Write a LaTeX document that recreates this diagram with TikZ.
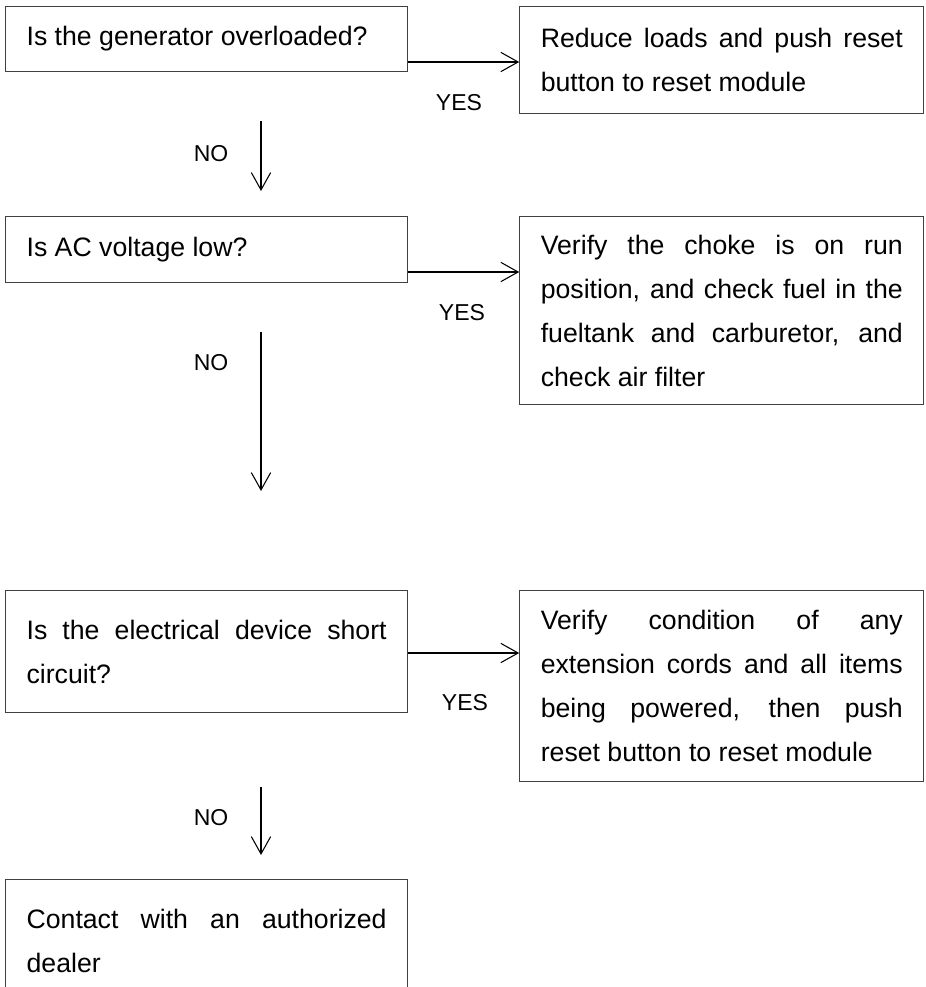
\documentclass[tikz,border=0pt]{standalone}
\usepackage{fontspec}
\setmainfont{Liberation Sans}
\usetikzlibrary{arrows.meta,positioning}
\definecolor{boxline}{HTML}{404040}
\hbadness=10000

\begin{document}
\begin{tikzpicture}[
  x=0.75pt, y=-0.75pt,
  every node/.style={font=\fontsize{17.25pt}{20pt}\selectfont},
  qbox/.style={rectangle, draw=boxline, line width=0.9pt, text width=270pt,
    inner xsep=15.75pt, inner ysep=0pt, align=justify, anchor=north west,
    font=\fontsize{20pt}{33pt}\selectfont,
    execute at begin node={\hyphenpenalty=10000\tolerance=10000}},
  abox/.style={qbox, text width=271.5pt},
  arrow/.style={-{Straight Barb[length=13pt, width=14.5pt]}, line width=0.8pt},
  lbl/.style={inner sep=0pt},
]
\useasboundingbox (0,0) rectangle (925,987);

% Questions
\node[qbox, minimum height=48.75pt] (overload) at (5,6) {Is the generator overloaded?};
\node[qbox, minimum height=49.5pt] (aclow) at (5,216) {Is AC voltage low?};
\node[qbox, minimum height=91.5pt] (short) at (5,590) {Is the electrical device short\linebreak circuit?};
\node[qbox, minimum height=91.5pt] (dealer) at (5,879) {Contact with an authorized\linebreak dealer};

% Actions
\node[abox, minimum height=80.25pt, below right=0pt and 83.25pt of overload.north east] (reset) {Reduce loads and push reset\linebreak button to reset module};
\node[abox, minimum height=141pt, below right=0pt and 83.25pt of aclow.north east] (fuel) {Verify the choke is on run\linebreak position, and check fuel in the\linebreak fueltank and carburetor, and\linebreak check air filter};
\node[abox, minimum height=143.25pt, below right=0pt and 83.25pt of short.north east] (cords) {Verify condition of any\linebreak extension cords and all items\linebreak being powered, then push\linebreak reset button to reset module};

% Labels
\node[lbl] (yes1) at (459,103) {YES};
\node[lbl] (yes2) at (462,313) {YES};
\node[lbl] (yes3) at (465,703) {YES};
\node[lbl] (no1) at (211,154) {NO};
\node[lbl] (no2) at (211,363) {NO};
\node[lbl] (no3) at (211,818) {NO};

% Arrow ends
\coordinate (y1) at (0,62);
\coordinate (y2) at (0,272);
\coordinate (y3) at (0,653);
\coordinate (no1a) at (261,121);
\coordinate (no1b) at (261,191);
\coordinate (no2a) at (261,332);
\coordinate (no2b) at (261,491);
\coordinate (no3a) at (261,787);
\coordinate (no3b) at (261,855);

% Arrows
\draw[arrow] (overload.east |- y1) -- (reset.west |- y1);
\draw[arrow] (aclow.east |- y2) -- (fuel.west |- y2);
\draw[arrow] (short.east |- y3) -- (cords.west |- y3);
\draw[arrow] (no1a) -- (no1b);
\draw[arrow] (no2a) -- (no2b);
\draw[arrow] (no3a) -- (no3b);
\end{tikzpicture}
\end{document}
